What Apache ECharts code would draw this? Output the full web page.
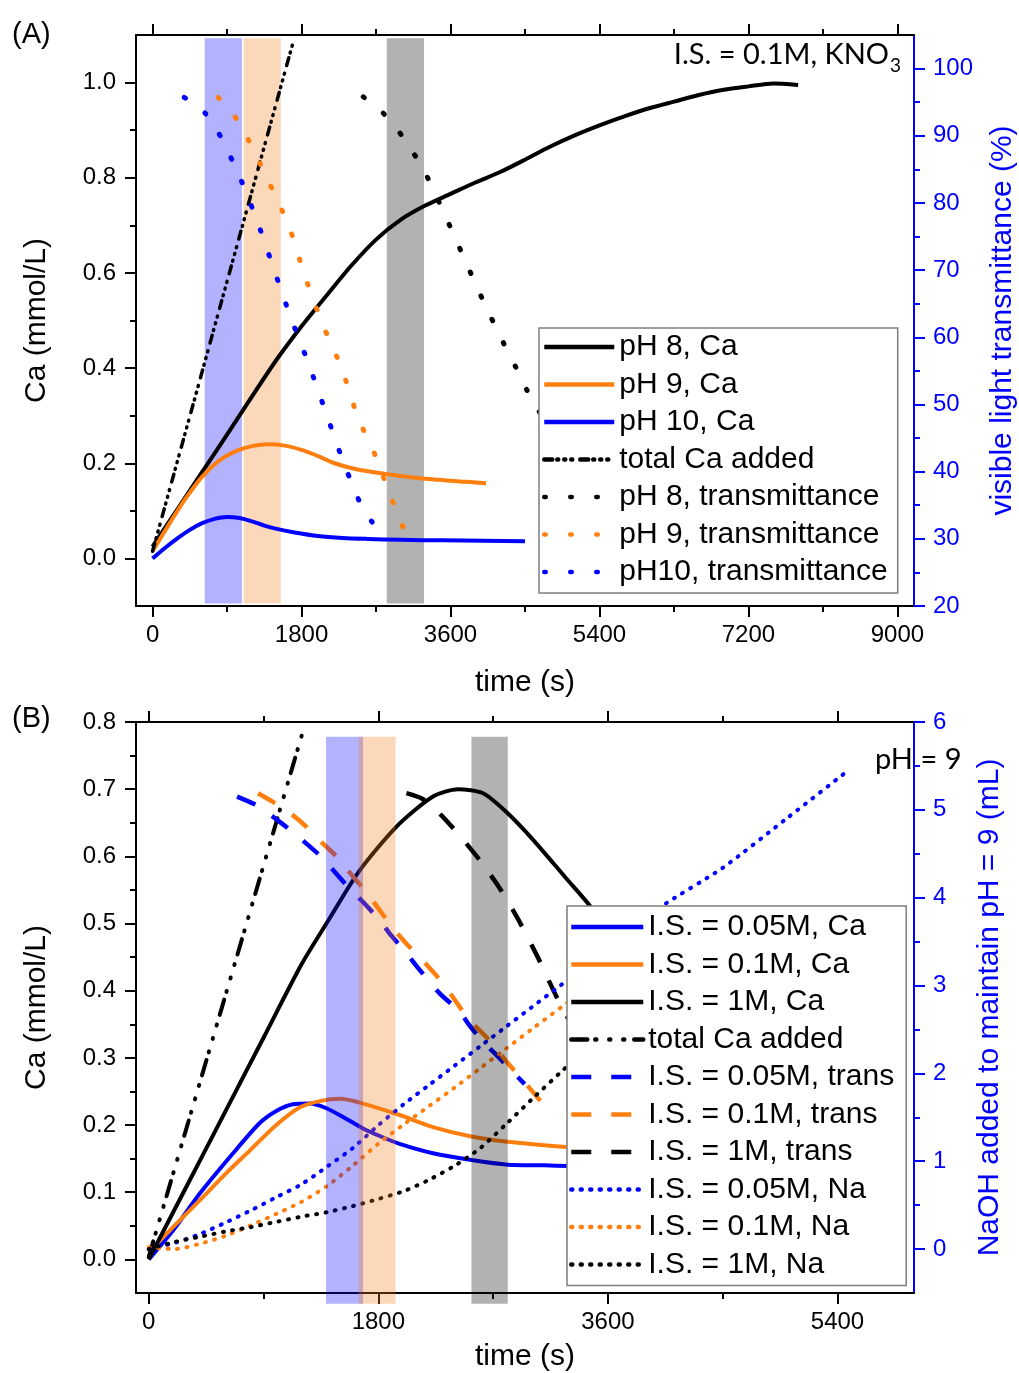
<!DOCTYPE html>
<html><head><meta charset="utf-8">
<script src="https://cdn.jsdelivr.net/npm/echarts@6/dist/echarts.min.js"></script>
<style>html,body{margin:0;padding:0;background:#fff}#c{width:1019px;height:1373px}</style>
</head><body><div id="c"></div>
<script>
// ---------------- Panel (A) data ----------------
const tA_ph8 = [0,300,600,900,1200,1500,1800,2100,2400,2700,3000,3300,3600,3900,4200,4500,4800,5100,5400,5700,6000,6300,6600,6900,7200,7500,7800];
const caA_ph8 = [0.025,0.103,0.182,0.26,0.34,0.418,0.488,0.552,0.615,0.67,0.712,0.742,0.766,0.79,0.812,0.838,0.865,0.889,0.91,0.929,0.946,0.96,0.974,0.985,0.992,0.998,0.995];
const tA_ph9 = [0,200,400,600,800,1000,1200,1400,1600,1800,2000,2200,2400,2600,2800,3000,3200,3400,3600,3800,4030];
const caA_ph9 = [0.015,0.072,0.126,0.172,0.205,0.225,0.236,0.24,0.237,0.228,0.215,0.2,0.19,0.183,0.178,0.173,0.169,0.166,0.163,0.161,0.158];
const tA_ph10 = [0,150,300,450,600,750,900,1050,1200,1350,1500,1700,2000,2300,2600,3000,3500,4000,4500];
const caA_ph10 = [0,0.022,0.042,0.06,0.074,0.083,0.087,0.085,0.078,0.069,0.062,0.055,0.047,0.043,0.041,0.039,0.038,0.037,0.036];
const tA_total = [0,1700];
const caA_total = [0.015,1.086];
const tA_tr8 = [2546,2768,2961,3263,3485,3735,3988,4238,4387,4520,4660,4900,5150];
const trA_ph8 = [95.8,93.6,90.9,85.2,79.5,72.6,65.6,59.2,55.6,52.2,49.2,44,38];
const tA_tr9 = [794,968,1116,1398,1648,1841,2050,2284,2478,2695,2868,3070];
const trA_ph9 = [95.7,93.3,90.4,83.3,76.5,69.1,62.1,55.4,48.2,42.3,36.6,30.4];
const tA_tr10 = [383,565,754,1035,1270,1470,1668,1881,2083,2304,2546,2667];
const trA_ph10 = [95.7,94.3,91.4,84.4,77.1,70.0,63.0,56.2,49.2,41.5,34.3,32.3];
const bandA_start = [630,1100,2830];
const bandA_end = [1080,1550,3280];
const bandA_low = -0.095, bandA_high = 1.093;
const xTicksA = [0,1800,3600,5400,7200,9000];
const xMinorA = [900,2700,4500,6300,8100];
const yTicksA = [0,0.2,0.4,0.6,0.8,1.0];
const yMinorA = [0.1,0.3,0.5,0.7,0.9];
const rTicksA = [20,30,40,50,60,70,80,90,100];
const rMinorA = [25,35,45,55,65,75,85,95];

// ---------------- Panel (B) data ----------------
const tB_ca05 = [0,190,400,661,870,1000,1131,1262,1393,1550,1680,1820,1967,2229,2529,2816,3100,3300];
const caB_05 = [0,0.043,0.098,0.158,0.203,0.221,0.231,0.232,0.225,0.209,0.195,0.183,0.172,0.158,0.148,0.141,0.14,0.139];
const tB_ca01 = [0,200,400,600,792,1000,1183,1350,1500,1680,1967,2229,2529,2816,3100,3300];
const caB_01 = [0.011,0.05,0.088,0.127,0.162,0.2,0.226,0.236,0.239,0.232,0.215,0.197,0.183,0.175,0.17,0.167];
const tB_ca1 = [0,300,600,900,1200,1393,1646,1941,2229,2425,2621,2804,3012,3274,3443,3600];
const caB_1 = [0,0.11,0.22,0.33,0.44,0.5,0.577,0.644,0.689,0.7,0.694,0.666,0.625,0.567,0.53,0.49];
const tB_total = [0,1215];
const caB_total = [0.004,0.79];
const tB_tr05 = [692,870,974,1131,1236,1366,1471,1575,1680,1810,1902,2020,2124,2281,2437,2516,2620,2712,2855,2947];
const trB_05 = [0.689,0.674,0.659,0.636,0.619,0.597,0.574,0.552,0.532,0.505,0.482,0.456,0.431,0.396,0.369,0.348,0.324,0.307,0.279,0.261];
const tB_tr01 = [857,974,1131,1236,1366,1471,1601,1706,1810,1915,2020,2124,2307,2437,2516,2646,2816,2933,3070];
const trB_01 = [0.694,0.681,0.661,0.644,0.619,0.6,0.57,0.547,0.52,0.493,0.47,0.45,0.411,0.376,0.356,0.331,0.292,0.267,0.236];
const tB_tr1 = [2020,2150,2300,2450,2600,2750,2900,3050,3200,3400];
const trB_1 = [0.694,0.685,0.66,0.628,0.593,0.553,0.505,0.45,0.39,0.32];
const tB_na05 = [0,200,400,600,800,1000,1200,1400,1600,1800,2000,2200,2400,2600,2800,3000,3200,3500,4000,4500,5000,5494];
const naB_05 = [0,0.07,0.17,0.3,0.44,0.59,0.74,0.94,1.15,1.41,1.65,1.87,2.09,2.31,2.53,2.75,2.97,3.3,3.88,4.34,4.9,5.46];
const tB_na01 = [0,200,400,600,800,1000,1200,1400,1600,1800,2000,2200,2400,2600,2800,3000,3250,3500];
const naB_01 = [0.02,0.0,0.06,0.15,0.27,0.4,0.54,0.72,0.95,1.2,1.42,1.63,1.84,2.06,2.28,2.5,2.77,3.03];
const tB_na1 = [0,200,400,600,800,1000,1200,1400,1600,1800,2000,2200,2400,2600,2800,3000,3250,3450];
const naB_1 = [0,0.08,0.14,0.2,0.25,0.31,0.37,0.42,0.49,0.57,0.66,0.79,0.95,1.15,1.42,1.7,2.04,2.3];
const bandB_start = [1390,1645,2530];
const bandB_end = [1680,1935,2815];
const bandB_low = -0.066, bandB_high = 0.778;
const xTicksB = [0,1800,3600,5400];
const xMinorB = [900,2700,4500];
const yTicksB = [0,0.1,0.2,0.3,0.4,0.5,0.6,0.7,0.8];
const yMinorB = [0.05,0.15,0.25,0.35,0.45,0.55,0.65,0.75];
const rTicksB = [0,1,2,3,4,5,6];
const rMinorB = [0.5,1.5,2.5,3.5,4.5,5.5];

// ---------------- styling / build ----------------
const FONT = 'Liberation Sans';
const BLUE = '#0000ff', ORANGE = '#ff7f0e', BLACK = '#000000';
const bandColors = ['rgba(0,0,255,0.3)','rgba(245,125,30,0.3)','rgba(0,0,0,0.3)'];

function pairs(ts, vs){ return ts.map((t,i)=>[t, vs[i]]); }

function axisPair(grid, pos, min, max, majors, minors, color, labels, fmt, name, nameGap, margin){
  const main = {type:'value', gridIndex:grid, position:pos, min:min, max:max,
    axisLine:{show:true, onZero:false, lineStyle:{color:color, width:2}},
    axisTick:{show:true, inside:false, length:11, customValues:majors, lineStyle:{color:color, width:2}},
    axisLabel:{show:labels, customValues:majors, fontSize:24, fontFamily:FONT, color:color, margin:margin, formatter:fmt},
    splitLine:{show:false}};
  if (name){
    main.name = name; main.nameLocation = 'middle'; main.nameGap = nameGap;
    main.nameTextStyle = {fontSize:30, fontFamily:FONT, color:color};
  }
  const minor = {type:'value', gridIndex:grid, position:pos, min:min, max:max,
    axisLine:{show:false, onZero:false},
    axisTick:{show:true, inside:false, length:6, customValues:minors, lineStyle:{color:color, width:2}},
    axisLabel:{show:false}, splitLine:{show:false}};
  return [main, minor];
}
const fInt = v => String(Math.round(v));
const f1 = v => v.toFixed(1);

const xAxes = [
  ...axisPair(0,'bottom',-200,9200,xTicksA,xMinorA,BLACK,true,fInt,'time (s)',62,17),
  ...axisPair(0,'top',-200,9200,xTicksA,xMinorA,BLACK,false,fInt,null,0,17),
  ...axisPair(1,'bottom',-100,6000,xTicksB,xMinorB,BLACK,true,fInt,'time (s)',49,17),
  ...axisPair(1,'top',-100,6000,xTicksB,xMinorB,BLACK,false,fInt,null,0,17)
];
const yAxes = [
  ...axisPair(0,'left',-0.1,1.1,yTicksA,yMinorA,BLACK,true,f1,'Ca (mmol/L)',84,20),
  ...axisPair(0,'right',20,105,rTicksA,rMinorA,BLUE,true,fInt,'visible light transmittance (%)',74,19),
  ...axisPair(1,'left',-0.05,0.8,yTicksB,yMinorB,BLACK,true,f1,'Ca (mmol/L)',84,20),
  ...axisPair(1,'right',-0.5,6,rTicksB,rMinorB,BLUE,true,fInt,'NaOH added to maintain pH = 9 (mL)',61,19)
];

function line(name, data, xi, yi, color, width, type, cap, smooth){
  return {type:'line', name:name, data:data, xAxisIndex:xi, yAxisIndex:yi,
    showSymbol:false, symbol:'none', smooth:smooth ? 0.25 : false,
    silent:true, animation:false, z:2,
    lineStyle:{color:color, width:width, type:type, cap:cap, join:'round'}, itemStyle:{color:color}};
}
function bands(xi, yi, starts, ends, low, high, z){
  return {type:'custom', xAxisIndex:xi, yAxisIndex:yi, z:z, silent:true, animation:false,
    data: starts.map((s,i)=>[s, ends[i], low, high]),
    encode:{x:[0,1], y:[2,3]},
    renderItem:(params, api)=>{
      const a = api.coord([api.value(0), api.value(3)]);
      const b = api.coord([api.value(1), api.value(2)]);
      return {type:'rect', shape:{x:a[0], y:a[1], width:b[0]-a[0], height:b[1]-a[1]},
        style:{fill:bandColors[params.dataIndex]}};
    }};
}

const DOT_A = [1.5,24.5], DASHDOT_A = [8,5,1,6,1,6,1,8];
const DOT_B = [1,8.5], DASH_B = [20,20], DASHDOT_B = [16,8,1,13,1,13,1,10];

const series = [
  bands(0,0,bandA_start,bandA_end,bandA_low,bandA_high,1),
  line('pH 8, Ca', pairs(tA_ph8,caA_ph8),0,0,BLACK,4,'solid','butt',true),
  line('pH 9, Ca', pairs(tA_ph9,caA_ph9),0,0,ORANGE,4,'solid','butt',true),
  line('pH 10, Ca', pairs(tA_ph10,caA_ph10),0,0,BLUE,4,'solid','butt',true),
  line('total Ca added', pairs(tA_total,caA_total),0,0,BLACK,3.5,DASHDOT_A,'round',false),
  line('pH 8, transmittance', pairs(tA_tr8,trA_ph8),0,2,BLACK,5,DOT_A,'round',true),
  line('pH 9, transmittance', pairs(tA_tr9,trA_ph9),0,2,ORANGE,5,DOT_A,'round',true),
  line('pH10, transmittance', pairs(tA_tr10,trA_ph10),0,2,BLUE,5,DOT_A,'round',true),

  line('I.S. = 0.05M, Ca', pairs(tB_ca05,caB_05),4,4,BLUE,4,'solid','butt',true),
  line('I.S. = 0.1M, Ca', pairs(tB_ca01,caB_01),4,4,ORANGE,4,'solid','butt',true),
  line('I.S. = 1M, Ca', pairs(tB_ca1,caB_1),4,4,BLACK,4,'solid','butt',true),
  line('total Ca added ', pairs(tB_total,caB_total),4,4,BLACK,4,DASHDOT_B,'round',false),
  line('I.S. = 0.05M, trans', pairs(tB_tr05,trB_05),4,4,BLUE,4.5,DASH_B,'butt',true),
  line('I.S. = 0.1M, trans', pairs(tB_tr01,trB_01),4,4,ORANGE,4.5,DASH_B,'butt',true),
  line('I.S. = 1M, trans', pairs(tB_tr1,trB_1),4,4,BLACK,4.5,DASH_B,'butt',true),
  line('I.S. = 0.05M, Na', pairs(tB_na05,naB_05),4,6,BLUE,4,DOT_B,'round',true),
  line('I.S. = 0.1M, Na', pairs(tB_na01,naB_01),4,6,ORANGE,4,DOT_B,'round',true),
  line('I.S. = 1M, Na', pairs(tB_na1,naB_1),4,6,BLACK,4,DOT_B,'round',true),
  bands(4,4,bandB_start,bandB_end,bandB_low,bandB_high,3)
];

const legendBase = {orient:'vertical', itemHeight:14, itemGap:7.5, selectedMode:false,
  textStyle:{fontSize:30, fontFamily:FONT, color:'#000'},
  backgroundColor:'#fff', borderColor:'#7f7f7f', borderWidth:1.5, borderRadius:0,
  itemStyle:{opacity:0}, lineStyle:{width:4.5}};

const option = {
  animation:false,
  backgroundColor:'#fff',
  grid:[
    {left:136, top:35, width:778, height:571, outerBoundsMode:'none', containLabel:false},
    {left:136, top:722, width:778, height:571, outerBoundsMode:'none', containLabel:false}
  ],
  xAxis:xAxes,
  yAxis:yAxes,
  legend:[
    Object.assign({}, legendBase, {left:539, top:328, padding:[4,10,6,3], itemWidth:70,
      data:['pH 8, Ca','pH 9, Ca','pH 10, Ca','total Ca added','pH 8, transmittance','pH 9, transmittance','pH10, transmittance']}),
    Object.assign({}, legendBase, {left:567, top:906, padding:[6,12,6,2], itemWidth:72,
      formatter: n => n.trim(),
      data:['I.S. = 0.05M, Ca','I.S. = 0.1M, Ca','I.S. = 1M, Ca','total Ca added ','I.S. = 0.05M, trans','I.S. = 0.1M, trans','I.S. = 1M, trans','I.S. = 0.05M, Na','I.S. = 0.1M, Na','I.S. = 1M, Na']})
  ],
  graphic:[
    {type:'text', x:12, y:35, z:10, style:{text:'(A)', fontSize:29, fontFamily:FONT, fill:'#000', align:'left', verticalAlign:'middle'}},
    {type:'text', x:12, y:719, z:10, style:{text:'(B)', fontSize:29, fontFamily:FONT, fill:'#000', align:'left', verticalAlign:'middle'}},
    {type:'text', x:889, y:55, z:10, style:{text:'I.S. = 0.1M, KNO', fontSize:29, fontFamily:'Lato', fill:'#000', align:'right', verticalAlign:'middle'}},
    {type:'text', x:890, y:66, z:10, style:{text:'3', fontSize:19, fontFamily:'Lato', fill:'#000', align:'left', verticalAlign:'middle'}},
    {type:'text', x:875, y:760, z:10, style:{text:'pH = 9', fontSize:29, fontFamily:'Lato', fill:'#000', align:'left', verticalAlign:'middle'}}
  ],
  series:series
};

const chart = echarts.init(document.getElementById('c'), null, {renderer:'canvas'});
chart.setOption(option);
</script></body></html>
